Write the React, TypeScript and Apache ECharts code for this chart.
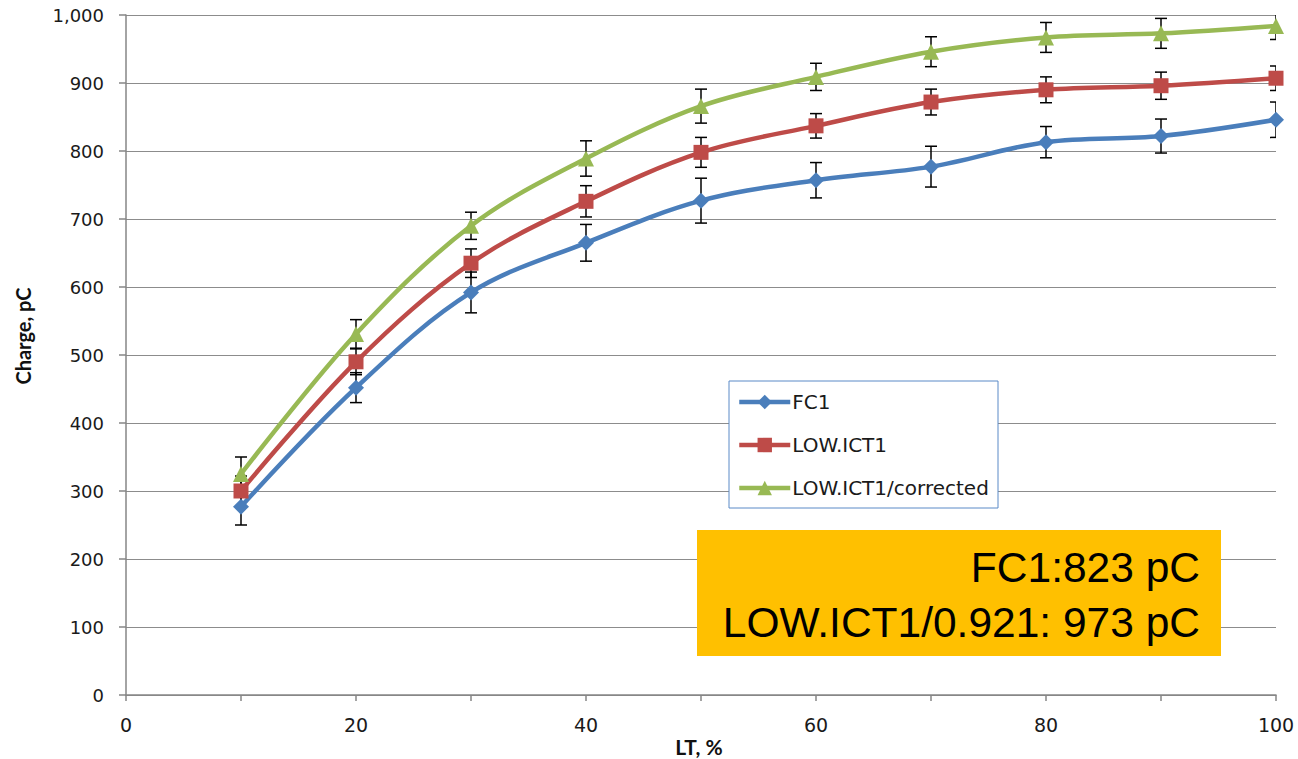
import React, { useEffect, useRef } from "react";
import * as echarts from "echarts";

const lt = [10, 20, 30, 40, 50, 60, 70, 80, 90, 100];
const fc1 = [277, 452, 592, 665, 727, 757, 777, 813, 822, 846];
const fc1Err = [27, 22, 30, 27, 33, 26, 30, 23, 25, 26];
const ict1 = [300, 490, 635, 726, 798, 837, 872, 890, 896, 907];
const ict1Err = [22, 19, 21, 23, 22, 18, 19, 19, 20, 18];
const corr = [325, 531, 690, 789, 866, 909, 946, 967, 973, 984];
const corrErr = [25, 21, 20, 26, 25, 20, 22, 22, 22, 20];
const seriesNames = ["FC1", "LOW.ICT1", "LOW.ICT1/corrected"];
const noteLines = ["FC1:823 pC", "LOW.ICT1/0.921: 973 pC"];
const xTitle = "LT, %";
const yTitle = "Charge, pC";

const colors = ["#4A7EBB", "#BE4B48", "#98B954"];

function errSeries(vals: number[], errs: number[]) {
  return {
    type: "custom",
    silent: true,
    clip: true,
    z: 1,
    data: lt.map((x, i) => [x, vals[i], errs[i]]),
    renderItem: (_params: any, api: any) => {
      const x = api.value(0);
      const y = api.value(1);
      const e = api.value(2);
      const top = api.coord([x, y + e]);
      const bot = api.coord([x, y - e]);
      const hw = 6;
      const style = { stroke: "#000", lineWidth: 1.5 };
      return {
        type: "group",
        children: [
          { type: "line", shape: { x1: top[0], y1: top[1], x2: bot[0], y2: bot[1] }, style },
          { type: "line", shape: { x1: top[0] - hw, y1: top[1], x2: top[0] + hw, y2: top[1] }, style },
          { type: "line", shape: { x1: bot[0] - hw, y1: bot[1], x2: bot[0] + hw, y2: bot[1] }, style },
        ],
      };
    },
  };
}

function lineSeries(name: string, vals: number[], color: string, symbol: string, size: number) {
  return {
    name,
    type: "line",
    smooth: 0.35,
    z: 3,
    data: lt.map((x, i) => [x, vals[i]]),
    symbol,
    symbolSize: size,
    showAllSymbol: true,
    lineStyle: { color, width: 4.5 },
    itemStyle: { color, borderWidth: 0 },
  };
}

export default function App() {
  const ref = useRef<HTMLDivElement>(null);
  useEffect(() => {
    if (!ref.current) return;
    const chart = echarts.init(ref.current, undefined, { renderer: "svg" });
    chart.setOption({
      animation: false,
      backgroundColor: "#fff",
      grid: { left: 126, right: 22, top: 15, bottom: 64, containLabel: false },
      xAxis: {
        type: "value",
        min: 0,
        max: 100,
        interval: 10,
        axisLine: { show: true, lineStyle: { color: "#868686", width: 1.5 } },
        axisTick: { show: true, length: 6, lineStyle: { color: "#868686", width: 1.5 } },
        splitLine: { show: false },
        axisLabel: {
          margin: 20,
          color: "#1a1a1a",
          fontFamily: "DejaVu Sans",
          fontSize: 19,
          formatter: (v: number) => (v % 20 === 0 ? String(v) : ""),
        },
      },
      yAxis: {
        type: "value",
        min: 0,
        max: 1000,
        interval: 100,
        axisLine: { show: true, lineStyle: { color: "#868686", width: 1.5 } },
        axisTick: { show: true, length: 7, lineStyle: { color: "#868686", width: 1.5 } },
        splitLine: { show: true, lineStyle: { color: "#8c8c8c", width: 1 } },
        axisLabel: {
          margin: 22,
          color: "#1a1a1a",
          fontFamily: "DejaVu Sans",
          fontSize: 18,
          formatter: (v: number) => v.toLocaleString("en-US"),
        },
      },
      legend: {
        show: true,
        orient: "vertical",
        left: 737,
        top: 391,
        z: 6,
        itemWidth: 51,
        itemHeight: 18,
        itemGap: 21,
        padding: 0,
        data: seriesNames,
        lineStyle: { width: 4.5 },
        textStyle: { fontFamily: "DejaVu Sans", fontSize: 20, color: "#1a1a1a", lineHeight: 22, padding: [0, 0, 0, -3] },
      },
      graphic: [
        {
          type: "rect",
          z: 4,
          shape: { x: 729, y: 381, width: 269, height: 127 },
          style: { fill: "#fff", stroke: "#5B8AC7", lineWidth: 1 },
        },
        {
          type: "rect",
          z: 4,
          shape: { x: 697, y: 530, width: 524, height: 126 },
          style: { fill: "#FFC000" },
        },
        {
          type: "text",
          z: 5,
          x: 1200,
          y: 567,
          style: { text: noteLines[0], fill: "#000", font: "42.5px 'Liberation Sans', Arial", align: "right", verticalAlign: "middle" },
        },
        {
          type: "text",
          z: 5,
          x: 1200,
          y: 622,
          style: { text: noteLines[1], fill: "#000", font: "42.5px 'Liberation Sans', Arial", align: "right", verticalAlign: "middle" },
        },
        {
          type: "text",
          z: 5,
          x: 699,
          y: 746,
          style: { text: xTitle, fill: "#111", font: "bold 21px Lato", align: "center", verticalAlign: "middle" },
        },
        {
          type: "text",
          z: 5,
          x: 23,
          y: 336,
          rotation: Math.PI / 2,
          style: { text: yTitle, fill: "#111", font: "bold 20px Lato", align: "center", verticalAlign: "middle" },
        },
      ],
      series: [
        errSeries(fc1, fc1Err),
        errSeries(ict1, ict1Err),
        errSeries(corr, corrErr),
        lineSeries(seriesNames[0], fc1, colors[0], "diamond", 16),
        lineSeries(seriesNames[1], ict1, colors[1], "rect", 15),
        lineSeries(seriesNames[2], corr, colors[2], "triangle", 16),
      ],
    });
    return () => chart.dispose();
  }, []);
  return <div ref={ref} style={{ position: "absolute", left: 0, top: 0, width: 1298, height: 759 }} />;
}
